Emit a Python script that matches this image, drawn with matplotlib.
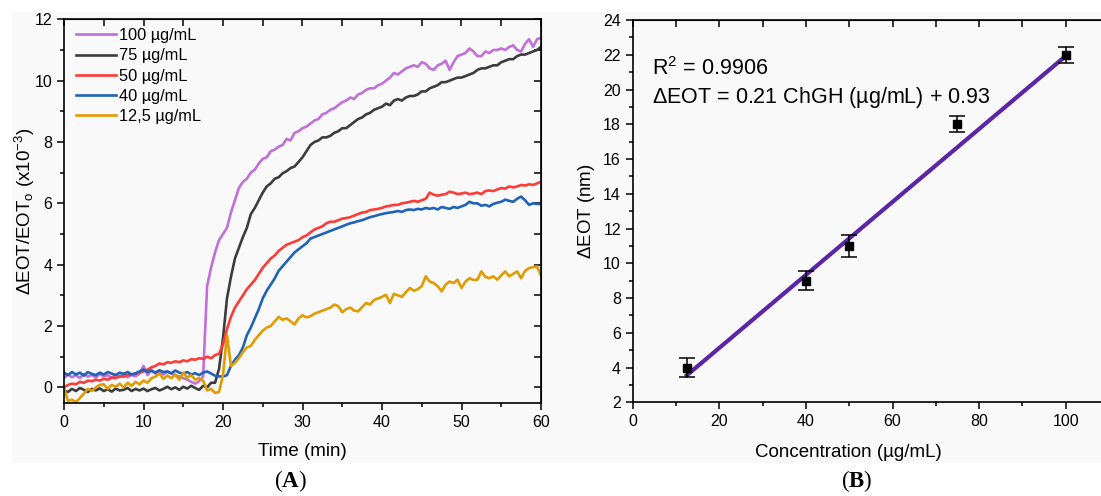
import numpy as np
import matplotlib
matplotlib.use('Agg')
from matplotlib import pyplot as plt
from matplotlib.patches import Rectangle
from matplotlib.ticker import MultipleLocator

plt.rcParams['font.family'] = ['Liberation Sans', 'DejaVu Sans']
plt.rcParams['mathtext.fontset'] = 'custom'
plt.rcParams['mathtext.rm'] = 'Liberation Sans'
plt.rcParams['mathtext.it'] = 'Liberation Sans:italic'
plt.rcParams['mathtext.bf'] = 'Liberation Serif:bold'

#%% sensorgram data, sampled every 0.5 min (one row = 5 min)
time_min = np.arange(0, 60.5, 0.5)

labels = ['100 µg/mL', '75 µg/mL', '50 µg/mL', '40 µg/mL', '12,5 µg/mL']
colors = ['#c070d8', '#3c3c3c', '#ff3b36', '#1f62b8', '#e09c00']

eot_100 = [0.30, 0.42, 0.33, 0.40, 0.30, 0.44, 0.35, 0.41, 0.32, 0.43,
           0.36, 0.40, 0.31, 0.42, 0.34, 0.44, 0.33, 0.40, 0.36, 0.45,
           0.70, 0.40, 0.55, 0.45, 0.52, 0.42, 0.50, 0.45, 0.40, 0.35,
           0.30, 0.25, 0.18, 0.12, 0.20, 0.35, 3.30, 3.90, 4.40, 4.80,
           5.00, 5.20, 5.70, 6.10, 6.50, 6.70, 6.80, 7.00, 7.10, 7.30,
           7.45, 7.50, 7.70, 7.75, 7.85, 7.90, 8.10, 8.05, 8.30, 8.35,
           8.45, 8.50, 8.60, 8.70, 8.75, 8.90, 8.95, 9.05, 9.10, 9.20,
           9.30, 9.35, 9.45, 9.40, 9.55, 9.60, 9.70, 9.75, 9.75, 9.85,
           9.90, 10.00, 10.10, 10.25, 10.20, 10.30, 10.40, 10.45, 10.50, 10.45,
           10.60, 10.55, 10.40, 10.35, 10.50, 10.55, 10.65, 10.35, 10.60, 10.80,
           10.85, 10.90, 11.05, 10.95, 10.80, 10.80, 10.95, 10.90, 11.00, 11.00,
           11.05, 11.00, 11.10, 11.15, 11.00, 10.95, 11.20, 11.35, 11.10, 11.35,
           11.40]

eot_75 = [-0.10, -0.15, -0.05, -0.12, -0.02, -0.08, -0.15, -0.05, -0.10, -0.03,
          -0.12, -0.06, -0.14, -0.04, -0.10, -0.08, -0.02, -0.12, -0.05, -0.10,
          -0.04, -0.12, -0.06, -0.02, -0.10, -0.05, 0.02, -0.06, 0.00, -0.08,
          0.02, -0.04, 0.05, -0.02, -0.08, 0.05, 0.00, 0.15, 0.15, 0.60,
          1.60, 2.90, 3.60, 4.20, 4.55, 4.90, 5.20, 5.65, 5.85, 6.10,
          6.35, 6.55, 6.65, 6.80, 6.85, 6.98, 7.05, 7.15, 7.20, 7.35,
          7.50, 7.70, 7.90, 8.00, 8.05, 8.15, 8.15, 8.20, 8.30, 8.35,
          8.45, 8.45, 8.55, 8.65, 8.75, 8.80, 8.90, 8.95, 9.05, 9.10,
          9.15, 9.25, 9.20, 9.35, 9.40, 9.35, 9.45, 9.50, 9.50, 9.55,
          9.65, 9.65, 9.75, 9.80, 9.85, 9.95, 9.95, 10.00, 10.05, 10.10,
          10.10, 10.15, 10.20, 10.25, 10.35, 10.40, 10.40, 10.45, 10.50, 10.50,
          10.60, 10.65, 10.70, 10.70, 10.80, 10.85, 10.85, 10.90, 10.95, 11.00,
          11.10]

eot_50 = [0.00, 0.08, 0.12, 0.10, 0.18, 0.15, 0.22, 0.20, 0.25, 0.22,
          0.28, 0.25, 0.32, 0.30, 0.36, 0.35, 0.40, 0.42, 0.45, 0.48,
          0.52, 0.58, 0.65, 0.70, 0.78, 0.75, 0.82, 0.80, 0.85, 0.82,
          0.88, 0.85, 0.92, 0.90, 0.95, 0.93, 1.00, 0.95, 1.05, 1.10,
          1.40, 1.90, 2.30, 2.60, 2.80, 3.00, 3.20, 3.35, 3.50, 3.70,
          3.90, 4.05, 4.20, 4.30, 4.45, 4.55, 4.65, 4.70, 4.75, 4.80,
          4.90, 4.95, 5.05, 5.15, 5.20, 5.25, 5.35, 5.40, 5.40, 5.45,
          5.50, 5.52, 5.55, 5.60, 5.65, 5.70, 5.72, 5.78, 5.80, 5.82,
          5.85, 5.90, 5.92, 5.95, 5.95, 6.00, 6.02, 6.05, 6.08, 6.05,
          6.10, 6.15, 6.35, 6.28, 6.25, 6.28, 6.30, 6.38, 6.35, 6.30,
          6.32, 6.35, 6.30, 6.32, 6.35, 6.30, 6.40, 6.42, 6.40, 6.45,
          6.50, 6.48, 6.55, 6.52, 6.55, 6.60, 6.58, 6.62, 6.60, 6.65,
          6.70]

eot_40 = [0.48, 0.40, 0.50, 0.42, 0.48, 0.38, 0.50, 0.44, 0.40, 0.48,
          0.42, 0.50, 0.45, 0.40, 0.48, 0.44, 0.50, 0.42, 0.46, 0.52,
          0.58, 0.50, 0.55, 0.48, 0.56, 0.50, 0.52, 0.46, 0.55, 0.48,
          0.45, 0.50, 0.42, 0.46, 0.40, 0.48, 0.52, 0.45, 0.38, 0.36,
          0.35, 0.40, 0.70, 0.90, 1.05, 1.30, 1.70, 1.95, 2.25, 2.55,
          2.90, 3.15, 3.35, 3.55, 3.80, 3.95, 4.10, 4.25, 4.40, 4.50,
          4.60, 4.70, 4.85, 4.90, 4.95, 5.00, 5.05, 5.10, 5.15, 5.20,
          5.25, 5.30, 5.35, 5.38, 5.42, 5.45, 5.50, 5.55, 5.58, 5.62,
          5.65, 5.68, 5.70, 5.72, 5.75, 5.72, 5.78, 5.80, 5.78, 5.82,
          5.80, 5.85, 5.82, 5.85, 5.80, 5.88, 5.85, 5.82, 5.88, 5.85,
          5.90, 5.95, 6.05, 6.00, 6.00, 5.92, 5.95, 5.90, 5.98, 6.02,
          6.05, 6.12, 6.08, 6.05, 6.15, 6.22, 6.10, 5.95, 6.00, 5.98,
          5.98]

eot_12 = [0.00, -0.45, -0.40, -0.48, -0.35, -0.20, -0.05, -0.12, 0.00, 0.08,
          0.10, -0.05, 0.08, 0.02, 0.12, 0.00, 0.15, 0.05, 0.18, 0.10,
          0.22, 0.15, 0.30, 0.35, 0.45, 0.28, 0.38, 0.30, 0.42, 0.25,
          0.48, 0.32, 0.40, 0.25, 0.30, 0.22, -0.10, -0.05, -0.18, -0.15,
          0.40, 1.70, 0.70, 0.80, 0.95, 1.15, 1.30, 1.35, 1.55, 1.70,
          1.85, 1.95, 2.00, 2.15, 2.30, 2.20, 2.25, 2.15, 2.05, 2.25,
          2.35, 2.28, 2.32, 2.40, 2.45, 2.50, 2.55, 2.60, 2.70, 2.65,
          2.45, 2.55, 2.60, 2.50, 2.48, 2.62, 2.75, 2.70, 2.85, 2.90,
          2.95, 3.02, 2.75, 3.05, 3.00, 2.95, 3.10, 3.24, 3.15, 3.20,
          3.30, 3.62, 3.45, 3.40, 3.30, 3.13, 3.35, 3.45, 3.40, 3.51,
          3.24, 3.45, 3.56, 3.50, 3.51, 3.78, 3.60, 3.56, 3.62, 3.51,
          3.65, 3.78, 3.62, 3.70, 3.78, 3.56, 3.80, 3.89, 3.92, 3.94,
          3.65]

series = [eot_100, eot_75, eot_50, eot_40, eot_12]

#%% calibration data
conc = [12.5, 40, 50, 75, 100]
d_eot = [4.0, 9.0, 11.0, 18.0, 22.0]
d_eot_err = [0.55, 0.55, 0.65, 0.47, 0.47]
slope, intercept = 0.21, 0.93
r2 = 0.9906

#%% figure
bg = '#f9f9f9'
fig = plt.figure(figsize=(11.01, 4.96), dpi=100)
fig.patches.append(Rectangle((12/1101, 33/496), 1 - 12/1101, 451/496,
                             transform=fig.transFigure, facecolor=bg,
                             edgecolor='none', zorder=-10))


def style_axes(ax):
    ax.set_facecolor(bg)
    for s in ax.spines.values():
        s.set_linewidth(1.2)
    ax.tick_params(which='both', direction='out', width=1.1, labelsize=11.5,
                   top=False, right=False)
    ax.tick_params(which='major', length=5)
    ax.tick_params(which='minor', length=3)


#%% (A) sensorgrams
ax0 = fig.add_axes([64/1101, 93.3/496, 477/1101, 383.4/496])
style_axes(ax0)
for y, c, lab in zip(series, colors, labels):
    ax0.plot(time_min, y, '-', color=c, lw=1.9, label=lab)
ax0.set_xlim(0, 60)
ax0.set_ylim(-0.5, 12)
ax0.xaxis.set_major_locator(MultipleLocator(10))
ax0.xaxis.set_minor_locator(MultipleLocator(5))
ax0.yaxis.set_major_locator(MultipleLocator(2))
ax0.yaxis.set_minor_locator(MultipleLocator(1))
ax0.set_xlabel('Time (min)', fontsize=13.5)
ax0.set_ylabel(r'$\Delta$EOT/EOT$_{\rm o}$ (x10$^{-3}$)', fontsize=13.5)
ax0.xaxis.set_label_coords(0.5, -0.105)
ax0.yaxis.set_label_coords(-0.057, 0.5)
# mirrored inward ticks on top and right
top0 = ax0.secondary_xaxis('top')
top0.set_xticks(np.arange(0, 61, 5))
top0.tick_params(direction='in', length=5, width=1.1, labeltop=False)
right0 = ax0.secondary_yaxis('right')
right0.set_yticks(np.arange(0, 13, 1))
right0.tick_params(direction='in', length=5, width=1.1, labelright=False)
ax0.legend(loc='upper left', bbox_to_anchor=(0.026, 0.977), frameon=False,
           fontsize=11.75, handlelength=2.4, handletextpad=0.2,
           labelspacing=0.32, borderpad=0, borderaxespad=0)

#%% (B) calibration curve
ax1 = fig.add_axes([632.7/1101, 93.7/496, 476.3/1101, 382.3/496])
style_axes(ax1)
xfit = np.array([conc[0], conc[-1]])
ax1.plot(xfit, slope*xfit + intercept, '-', color='#5b25a6', lw=3, zorder=2)
ax1.errorbar(conc, d_eot, yerr=d_eot_err, fmt='s', color='black', ms=5.5,
             ecolor='black', elinewidth=1.1, capsize=6, capthick=1.1, zorder=3)
ax1.set_xlim(0, 110)
ax1.set_ylim(2, 24)
ax1.xaxis.set_major_locator(MultipleLocator(20))
ax1.xaxis.set_minor_locator(MultipleLocator(10))
ax1.yaxis.set_major_locator(MultipleLocator(2))
ax1.yaxis.set_minor_locator(MultipleLocator(1))
ax1.set_xlabel('Concentration (µg/mL)', fontsize=13.5)
ax1.set_ylabel(r'$\Delta$EOT (nm)', fontsize=13.5)
ax1.xaxis.set_label_coords(0.452, -0.11)
ax1.yaxis.set_label_coords(-0.075, 0.5)
top1 = ax1.secondary_xaxis('top')
top1.set_xticks(np.arange(0, 111, 10))
top1.tick_params(direction='in', length=5, width=1.1, labeltop=False)
ax1.text(0.04, 0.872, r'R$^2$ = %.4f' % r2, transform=ax1.transAxes,
         fontsize=15.5, va='center', ha='left')
ax1.text(0.04, 0.798, '$\\Delta$EOT = %.2f ChGH (µg/mL) + %.2f' % (slope, intercept),
         transform=ax1.transAxes, fontsize=15.5, va='center', ha='left')

#%% panel letters
fig.text(290/1101, 1 - 481/496, r'($\mathbf{A}$)', fontsize=16.5,
         family='Liberation Serif', ha='center', va='center')
fig.text(857/1101, 1 - 481/496, r'($\mathbf{B}$)', fontsize=16.5,
         family='Liberation Serif', ha='center', va='center')

fig.savefig('out.png', dpi=100, facecolor='white')
